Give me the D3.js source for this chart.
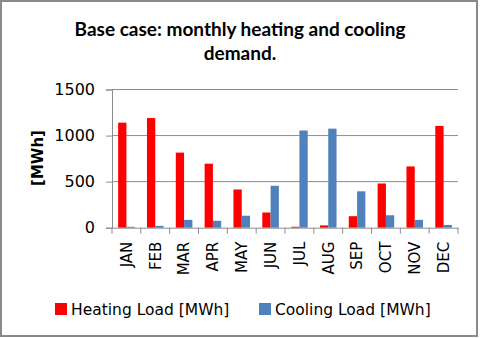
<!DOCTYPE html>
<html>
<head>
<meta charset="utf-8">
<script src="https://cdn.jsdelivr.net/npm/d3@7"></script>
<style>
  html, body { margin: 0; padding: 0; background: #fff; }
  svg { display: block; }
</style>
</head>
<body>
<svg width="480" height="338"></svg>
<script>
const months = ["JAN", "FEB", "MAR", "APR", "MAY", "JUN", "JUL", "AUG", "SEP", "OCT", "NOV", "DEC"];
const heating = [1140, 1190, 815, 695, 415, 165, 10, 25, 125, 480, 665, 1105];
const cooling = [10, 20, 85, 75, 130, 455, 1055, 1075, 395, 135, 85, 30];
const yTicks = [0, 500, 1000, 1500];
const seriesNames = ["Heating Load [MWh]", "Cooling Load [MWh]"];
const seriesColors = ["#ff0000", "#4f81bd"];

const svg = d3.select("svg");
const plot = { left: 112, right: 458, top: 89.5, bottom: 227.7 };

// frame
svg.append("rect")
  .attr("x", 1).attr("y", 1)
  .attr("width", 476).attr("height", 335)
  .attr("fill", "#fff")
  .attr("stroke", "#8a8a8a")
  .attr("stroke-width", 2);

// title
const title = svg.append("text")
  .attr("text-anchor", "middle")
  .attr("font-family", "Lato, 'Open Sans', sans-serif")
  .attr("font-weight", "bold")
  .attr("font-size", "19px")
  .attr("fill", "#000");
title.append("tspan").attr("x", 240).attr("y", 36).text("Base case: monthly heating and cooling");
title.append("tspan").attr("x", 240).attr("y", 60).text("demand.");

const x = d3.scaleBand()
  .domain(months)
  .range([plot.left, plot.right])
  .padding(0);

const sub = d3.scaleBand()
  .domain([0, 1])
  .range([0, x.bandwidth()])
  .paddingInner(0)
  .paddingOuter(0.74);

const y = d3.scaleLinear()
  .domain([0, 1500])
  .range([plot.bottom, plot.top]);

// gridlines
svg.append("g")
  .selectAll("line")
  .data(yTicks.filter(d => d > 0))
  .enter()
  .append("line")
  .attr("x1", plot.left).attr("x2", plot.right)
  .attr("y1", d => y(d)).attr("y2", d => y(d))
  .attr("stroke", "#8c8c8c")
  .attr("stroke-width", 1);

// bars
const rows = months.map((m, i) => ({ month: m, values: [heating[i], cooling[i]] }));
const groups = svg.append("g")
  .selectAll("g")
  .data(rows)
  .enter()
  .append("g")
  .attr("transform", d => `translate(${x(d.month)},0)`);

groups.selectAll("rect")
  .data(d => d.values.map((v, k) => ({ v, k })))
  .enter()
  .append("rect")
  .attr("x", d => sub(d.k))
  .attr("y", d => y(d.v))
  .attr("width", sub.bandwidth())
  .attr("height", d => y(0) - y(d.v))
  .attr("fill", d => seriesColors[d.k]);

// y axis
const yAxis = svg.append("g")
  .attr("transform", `translate(${plot.left},0)`)
  .attr("font-family", "'DejaVu Sans', sans-serif")
  .attr("font-size", 16)
  .call(d3.axisLeft(y).tickValues(yTicks).tickFormat(d3.format("d")).tickSize(6).tickPadding(11));
yAxis.attr("font-family", "'DejaVu Sans', sans-serif").attr("font-size", 16);
yAxis.select(".domain").attr("stroke", "#8c8c8c");
yAxis.selectAll("line").attr("stroke", "#8c8c8c");
yAxis.selectAll("text").attr("fill", "#000");

// x axis
const xAxis = svg.append("g")
  .attr("transform", `translate(0,${plot.bottom})`)
  .call(d3.axisBottom(x).tickSize(0).tickPadding(0));
xAxis.attr("font-family", "'DejaVu Sans', sans-serif").attr("font-size", 15);
xAxis.select(".domain").attr("stroke", "#8c8c8c");
xAxis.selectAll("text")
  .attr("fill", "#000")
  .attr("transform", "rotate(-90)")
  .attr("text-anchor", "end")
  .attr("x", -14)
  .attr("y", 0)
  .attr("dy", "0.36em");

// category boundary ticks
svg.append("g")
  .selectAll("line")
  .data(months.concat(["end"]))
  .enter()
  .append("line")
  .attr("x1", (d, i) => i < months.length ? x(d) : plot.right)
  .attr("x2", (d, i) => i < months.length ? x(d) : plot.right)
  .attr("y1", plot.bottom)
  .attr("y2", plot.bottom + 6)
  .attr("stroke", "#8c8c8c");

// y label
svg.append("text")
  .attr("transform", "translate(43,158) rotate(-90)")
  .attr("text-anchor", "middle")
  .attr("font-family", "'DejaVu Sans', sans-serif")
  .attr("font-weight", "bold")
  .attr("font-size", 15)
  .attr("fill", "#000")
  .text("[MWh]");

// legend
const legendX = [55, 259];
const legend = svg.append("g")
  .selectAll("g")
  .data(seriesNames)
  .enter()
  .append("g")
  .attr("transform", (d, i) => `translate(${legendX[i]},303)`);
legend.append("rect")
  .attr("width", 12).attr("height", 12)
  .attr("fill", (d, i) => seriesColors[i]);
legend.append("text")
  .attr("x", 16).attr("y", 11.5)
  .attr("font-family", "'DejaVu Sans', sans-serif")
  .attr("font-size", 15.5)
  .attr("fill", "#000")
  .text(d => d);
</script>
</body>
</html>
